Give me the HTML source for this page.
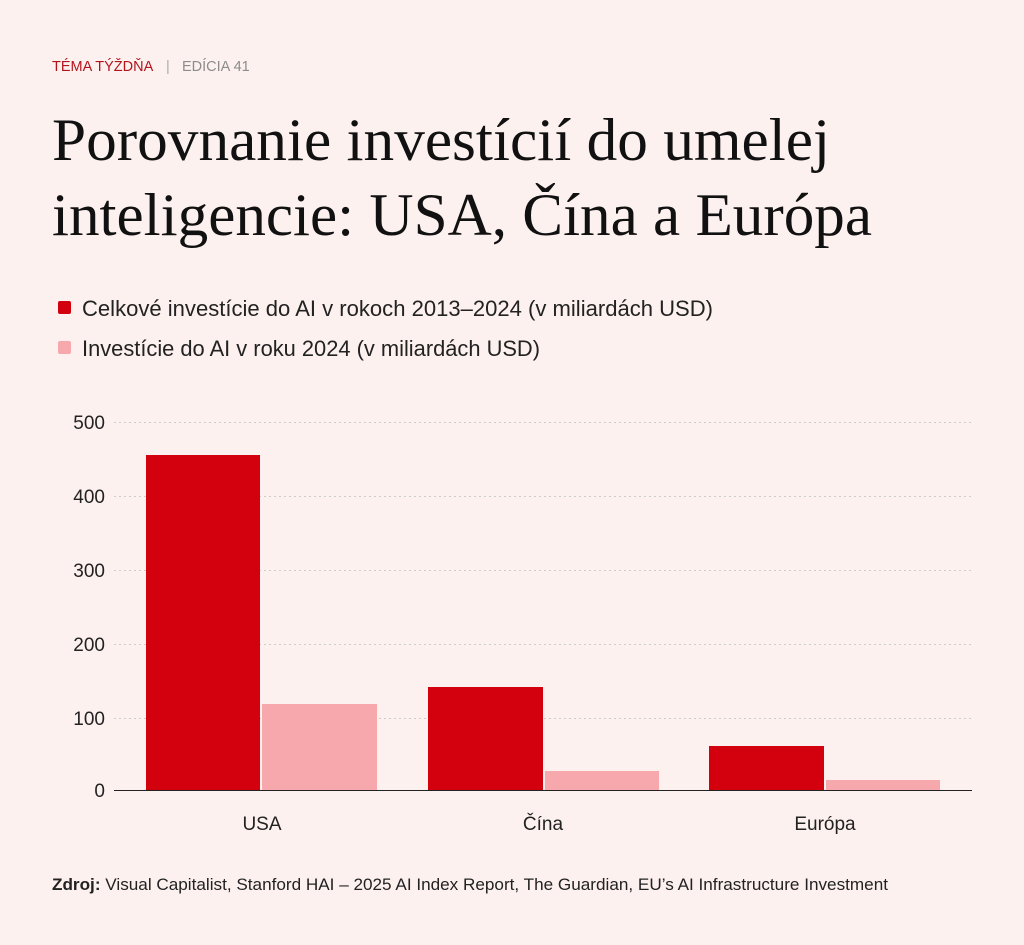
<!DOCTYPE html>
<html><head><meta charset="utf-8"><style>
html,body{margin:0;padding:0;background:#fdf1f0;}
svg{display:block}
</style></head><body>
<svg width="1024" height="945" xmlns="http://www.w3.org/2000/svg">
<rect width="1024" height="945" fill="#fdf1f0"/>
<g font-family="Liberation Sans, Arial, sans-serif">
<text x="52" y="71" font-size="14.5" fill="#b3141c">TÉMA TÝŽDŇA</text>
<text x="166" y="71" font-size="14.5" fill="#aaa">|</text>
<text x="182" y="71" font-size="14.5" fill="#8c8c8c">EDÍCIA 41</text>
</g>
<g font-family="Liberation Serif, Times New Roman, serif" font-size="60" fill="#111">
<text x="52" y="160" textLength="778" lengthAdjust="spacingAndGlyphs">Porovnanie investícií do umelej</text>
<text x="52" y="235" textLength="820" lengthAdjust="spacingAndGlyphs">inteligencie: USA, Čína a Európa</text>
</g>
<g font-family="Liberation Sans, Arial, sans-serif" font-size="21.8" fill="#222">
<rect x="58" y="301" width="13" height="13" rx="2" fill="#d3000d"/>
<text x="82" y="316" textLength="631" lengthAdjust="spacingAndGlyphs">Celkové investície do AI v rokoch 2013–2024 (v miliardách USD)</text>
<rect x="58" y="341" width="13" height="13" rx="2" fill="#f7a8ac"/>
<text x="82" y="356" textLength="458" lengthAdjust="spacingAndGlyphs">Investície do AI v roku 2024 (v miliardách USD)</text>
</g>
<g stroke="#ccc" stroke-width="1" stroke-dasharray="2,3">
<line x1="114" y1="422.5" x2="972" y2="422.5"/>
<line x1="114" y1="496.5" x2="972" y2="496.5"/>
<line x1="114" y1="570.5" x2="972" y2="570.5"/>
<line x1="114" y1="644.5" x2="972" y2="644.5"/>
<line x1="114" y1="718.5" x2="972" y2="718.5"/>
</g>
<g font-family="Liberation Sans, Arial, sans-serif" font-size="19" fill="#222" text-anchor="end">
<text x="105" y="429">500</text>
<text x="105" y="503">400</text>
<text x="105" y="577">300</text>
<text x="105" y="651">200</text>
<text x="105" y="725">100</text>
<text x="105" y="797">0</text>
</g>
<rect x="146" y="455" width="114" height="335" fill="#d3000d"/>
<rect x="262" y="704" width="115" height="86" fill="#f7a8ac"/>
<rect x="428" y="687" width="115" height="103" fill="#d3000d"/>
<rect x="545" y="771" width="114" height="19" fill="#f7a8ac"/>
<rect x="709" y="746" width="115" height="44" fill="#d3000d"/>
<rect x="826" y="780" width="114" height="10" fill="#f7a8ac"/>
<line x1="114" y1="790.5" x2="972" y2="790.5" stroke="#222" stroke-width="1"/>
<g font-family="Liberation Sans, Arial, sans-serif" font-size="19" fill="#222" text-anchor="middle">
<text x="262" y="830">USA</text>
<text x="543" y="830">Čína</text>
<text x="825" y="830">Európa</text>
</g>
<text x="52" y="890" font-family="Liberation Sans, Arial, sans-serif" font-size="17" fill="#222" textLength="836" lengthAdjust="spacingAndGlyphs"><tspan font-weight="bold">Zdroj:</tspan> Visual Capitalist, Stanford HAI – 2025 AI Index Report, The Guardian, EU’s AI Infrastructure Investment</text>
</svg>
</body></html>
